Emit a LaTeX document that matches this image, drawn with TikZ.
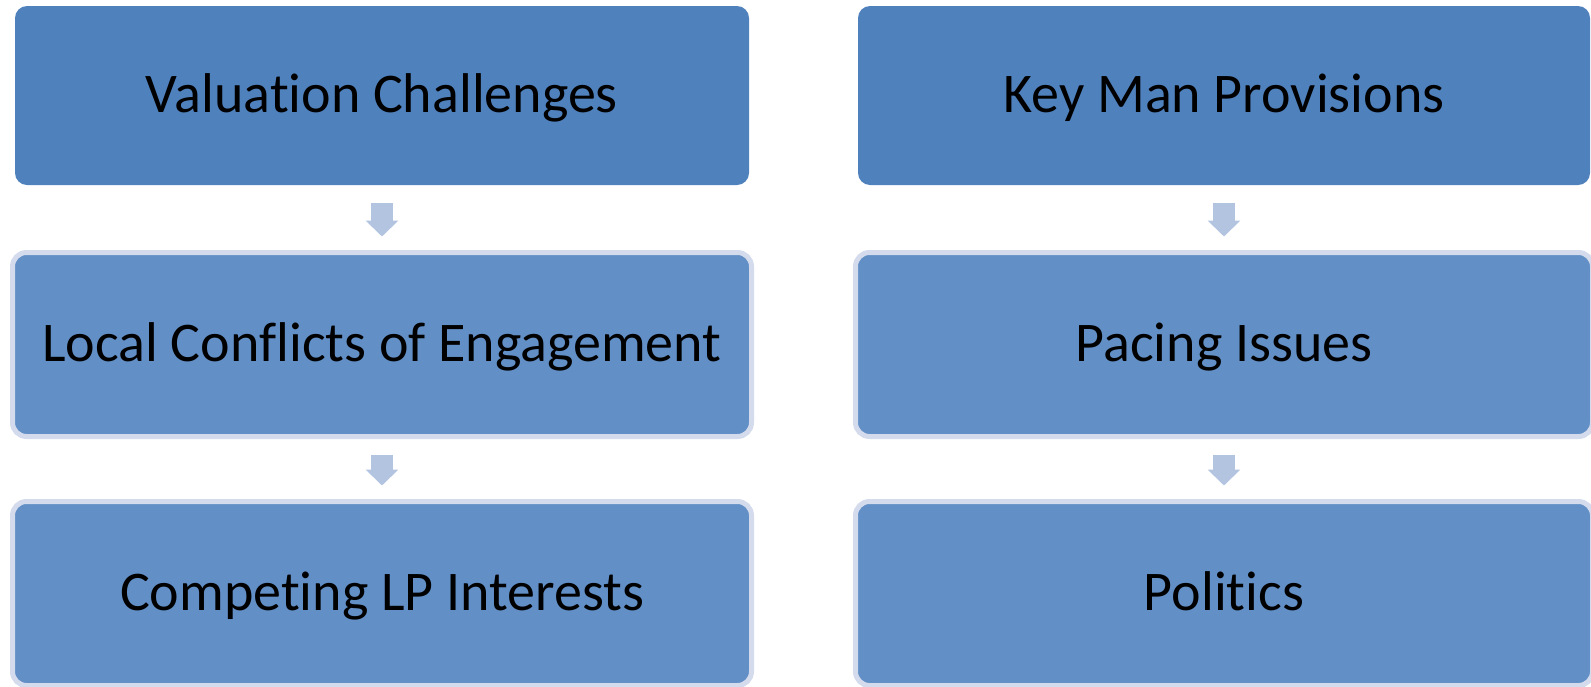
\documentclass[tikz,border=0pt]{standalone}
\usepackage{fontspec}
\setmainfont{Carlito}[Ligatures={NoCommon}]
\usepackage{xcolor}
\usetikzlibrary{positioning,arrows.meta,calc}

\definecolor{topblue}{HTML}{4F81BD}
\definecolor{lowblue}{HTML}{618FC6}
\definecolor{rimblue}{HTML}{D3DBEC}
\definecolor{arrblue}{HTML}{B3C4E0}

\begin{document}
\begin{tikzpicture}[
    x=1pt, y=-1pt,
    topbox/.style={rectangle, rounded corners=12pt, fill=topblue, outer sep=0pt,
        minimum height=179pt, align=center, text height=46pt, text depth=12pt,
        font=\fontsize{56}{64}\selectfont},
    lowbox/.style={rectangle, rounded corners=14pt, fill=lowblue, draw=rimblue, line width=5pt,
        outer sep=0pt, minimum height=184pt, align=center, text height=46pt, text depth=12pt,
        font=\fontsize{56}{64}\selectfont},
    flow/.style={line width=22pt, draw=arrblue, -{Triangle[width=32pt, length=16pt]},
        shorten <=18pt, shorten >=16pt}
]

\useasboundingbox (0,0) rectangle (1591,686);

% Left column
\node[topbox, minimum width=734pt] (valuation) at (382,95.5) {Valuation Challenges};
\node[lowbox, minimum width=739pt, below=67.5pt of valuation] (local) {Local Conflicts of Engagement};
\node[lowbox, minimum width=739pt, below=65pt of local] (competing) {Competing LP Interests};

% Right column
\node[topbox, minimum width=732pt] (keyman) at (1224,95.5) {Key Man Provisions};
\node[lowbox, minimum width=737pt, below=67.5pt of keyman] (pacing) {Pacing Issues};
\node[lowbox, minimum width=737pt, below=65pt of pacing] (politics) {Politics};

% Arrows
\draw[flow] (valuation) -- (local);
\draw[flow] (local) -- (competing);
\draw[flow] (keyman) -- (pacing);
\draw[flow] (pacing) -- (politics);

\end{tikzpicture}
\end{document}
